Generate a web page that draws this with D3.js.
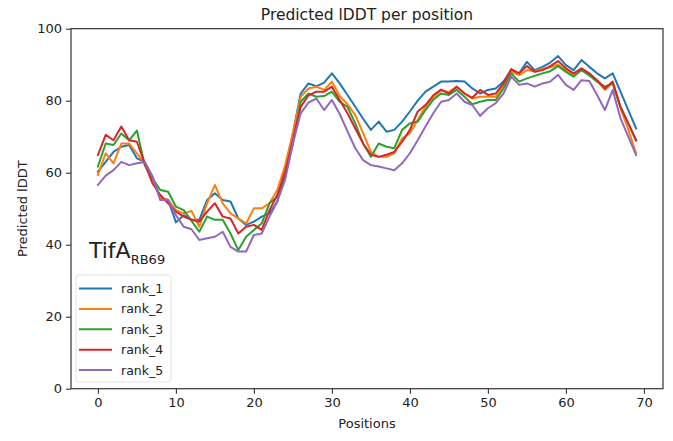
<!DOCTYPE html>
<html>
<head>
<meta charset="utf-8">
<script src="https://cdn.jsdelivr.net/npm/d3@7"></script>
<style>
  html, body { margin: 0; padding: 0; background: #fff; }
  svg { display: block; }
  text { font-family: "DejaVu Sans", sans-serif; fill: #222; }
</style>
</head>
<body>
<svg id="chart" width="673" height="441"></svg>
<script>
// Per-residue predicted lDDT for the five ranked models
const positions = d3.range(0, 70);

const rank_1 = [60.3, 63, 65.8, 67.2, 67.7, 64, 63, 58.9, 52.9, 52.5,
  46.2, 48.2, 47, 46.9, 52.4, 54.3, 52.4, 52, 47.3, 45.5,
  46.4, 47.8, 48.7, 52, 61, 71, 82, 84.8, 84, 85,
  87.6, 84.8, 81.6, 78.3, 75, 71.9, 74.2, 71.4, 71.9, 74.2,
  77, 80, 82.5, 83.9, 85.3, 85.3, 85.5, 85.3, 83.4, 82,
  83, 83.4, 85.3, 88.5, 87.6, 90.8, 88.5, 89.4, 90.6, 92.4,
  89.9, 88.5, 91.3, 89.4, 87.6, 86.2, 87.6, 82.5, 77.4, 72.3];

const rank_2 = [59.4, 65.4, 62.6, 68.1, 68.1, 65.4, 62.6, 58, 52.9, 52.5,
  49.6, 48.7, 49.4, 45, 51.5, 56.6, 51.5, 48.7, 47.3, 45.9,
  50.1, 50.1, 51.5, 55.2, 62, 71, 81.1, 83.4, 83.9, 83,
  85.3, 81.3, 79, 76, 71, 65.8, 64.4, 64.4, 65.4, 69.5,
  71, 74.6, 78.3, 81.1, 82.8, 82.4, 83.9, 82, 80.6, 81.1,
  81.1, 81.1, 84.4, 88, 87.1, 88.5, 88.2, 88.8, 89.3, 90,
  88.5, 87, 88.5, 87.3, 85.5, 83, 85, 78, 72, 65.4];

const rank_3 = [61.7, 68.1, 67.7, 70.9, 69, 71.7, 62.1, 58.4, 55.2, 54.7,
  50.6, 49.6, 46.6, 43.6, 47.8, 46.9, 46.9, 43.1, 38.5, 42.2,
  44.1, 45.9, 51.5, 53.3, 59, 68, 79.7, 82, 81.1, 81.3,
  82.5, 79.7, 78.3, 73.7, 68.1, 64.4, 68.1, 67.2, 66.8, 71.9,
  73.7, 74.2, 77.4, 80.3, 82, 81.6, 83, 81.1, 79, 79.7,
  80.2, 80.2, 83.4, 87.6, 85.3, 86.2, 86.9, 87.6, 88.2, 89.6,
  88, 86.7, 88.5, 87, 85.3, 83.9, 84.8, 78.3, 73.7, 69];

const rank_4 = [64.9, 70.5, 69, 72.8, 69, 68.6, 62.6, 57, 53.8, 51.5,
  49.2, 47.8, 46.9, 46.4, 49.2, 51.5, 47.8, 47.3, 43.1, 45,
  45.5, 44.1, 49.6, 53.8, 60, 69, 78.3, 81.5, 82.5, 82.5,
  83.9, 80.2, 76.5, 72.3, 68.1, 65, 64.4, 65, 65.8, 68.6,
  71.9, 77, 78.8, 81.5, 83.1, 82, 83.9, 82, 80.8, 83,
  81.6, 82, 84.8, 88.8, 87.6, 89.6, 88, 88.5, 89.6, 91,
  89, 87.6, 89, 87.6, 85.7, 83.4, 85.3, 78.3, 73.7, 69];

const rank_5 = [56.6, 59.2, 60.7, 63, 62.1, 62.6, 63, 58.9, 52.4, 52.4,
  48.2, 45, 44.3, 41.3, 41.8, 42.2, 43.6, 39.4, 38.1, 38.1,
  42.7, 43.1, 47.8, 52, 58, 68.1, 76.5, 79.5, 80.6, 77.4,
  80.2, 76.3, 71.5, 66.8, 63.5, 62.1, 61.7, 61.2, 60.7, 62.6,
  65.4, 69, 72.8, 76.5, 79.7, 80.2, 82, 79.7, 78.8, 75.8,
  77.9, 79.3, 82, 86.7, 84.4, 84.8, 83.9, 84.8, 85.3, 87.2,
  84.4, 83, 85.7, 85.5, 81.6, 77.4, 83, 75.1, 70, 64.9];

const seriesNames = ["rank_1", "rank_2", "rank_3", "rank_4", "rank_5"];
const seriesValues = [rank_1, rank_2, rank_3, rank_4, rank_5];
const seriesColors = ["#1f77b4", "#ff7f0e", "#2ca02c", "#d62728", "#9467bd"];

const xTicks = [0, 10, 20, 30, 40, 50, 60, 70];
const yTicks = [0, 20, 40, 60, 80, 100];

const titleText = "Predicted lDDT per position";
const xLabel = "Positions";
const yLabel = "Predicted lDDT";
const proteinName = "TifA";
const proteinSub = "RB69";

// Layout
const plot = { left: 71, right: 663, top: 28.7, bottom: 388.7 };

const svg = d3.select("#chart");

// x extent padded by 5% on each side
const span = d3.max(positions) - d3.min(positions);
const x = d3.scaleLinear()
  .domain([d3.min(positions) - span * 0.05, d3.max(positions) + span * 0.05])
  .range([plot.left, plot.right]);
const y = d3.scaleLinear().domain([0, 100]).range([plot.bottom, plot.top]);

// Axes
const tickFont = "13px";
const xAxis = svg.append("g")
  .attr("transform", `translate(0,${plot.bottom})`)
  .call(d3.axisBottom(x).tickValues(xTicks).tickSize(5).tickPadding(4).tickFormat(d3.format("d")));
const yAxis = svg.append("g")
  .attr("transform", `translate(${plot.left},0)`)
  .call(d3.axisLeft(y).tickValues(yTicks).tickSize(5).tickPadding(4).tickFormat(d3.format("d")));

[xAxis, yAxis].forEach(g => {
  g.select(".domain").remove();
  g.selectAll(".tick line").attr("stroke", "#333").attr("stroke-width", 1.1);
  g.selectAll(".tick text")
    .attr("font-family", "DejaVu Sans, sans-serif")
    .attr("font-size", tickFont)
    .attr("fill", "#222");
});

// Lines
const line = d3.line()
  .x((d, i) => x(positions[i]))
  .y(d => y(d));

seriesValues.forEach((vals, k) => {
  svg.append("path")
    .datum(vals)
    .attr("fill", "none")
    .attr("stroke", seriesColors[k])
    .attr("stroke-width", 2)
    .attr("stroke-linejoin", "round")
    .attr("stroke-linecap", "square")
    .attr("d", line);
});

// Frame
svg.append("rect")
  .attr("x", plot.left).attr("y", plot.top)
  .attr("width", plot.right - plot.left)
  .attr("height", plot.bottom - plot.top)
  .attr("fill", "none")
  .attr("stroke", "#333")
  .attr("stroke-width", 1.2);

// Title and axis labels
svg.append("text")
  .attr("x", (plot.left + plot.right) / 2)
  .attr("y", 20)
  .attr("text-anchor", "middle")
  .attr("font-size", "15.5px")
  .text(titleText);

svg.append("text")
  .attr("x", (plot.left + plot.right) / 2)
  .attr("y", 428)
  .attr("text-anchor", "middle")
  .attr("font-size", "13px")
  .text(xLabel);

svg.append("text")
  .attr("transform", `translate(27,${(plot.top + plot.bottom) / 2}) rotate(-90)`)
  .attr("text-anchor", "middle")
  .attr("font-size", "13px")
  .text(yLabel);

// Legend
const legend = svg.append("g").attr("transform", "translate(76,275)");
legend.append("rect")
  .attr("x", 0).attr("y", 0)
  .attr("width", 95).attr("height", 107)
  .attr("rx", 3)
  .attr("fill", "#fff").attr("fill-opacity", 0.8)
  .attr("stroke", "#e3e3e3").attr("stroke-width", 1);

seriesNames.forEach((name, k) => {
  const row = legend.append("g").attr("transform", `translate(0,${13.5 + k * 20.4})`);
  row.append("line")
    .attr("x1", 3).attr("x2", 36)
    .attr("y1", 0).attr("y2", 0)
    .attr("stroke", seriesColors[k])
    .attr("stroke-width", 2);
  row.append("text")
    .attr("x", 45).attr("y", 4.5)
    .attr("font-size", "12.5px")
    .text(name);
});

// Protein label
const lbl = svg.append("text")
  .attr("x", 89).attr("y", 258)
  .attr("font-family", "Liberation Sans, Arial, sans-serif")
  .attr("font-size", "22px")
  .attr("fill", "#111");
lbl.append("tspan").text(proteinName);
lbl.append("tspan")
  .attr("dy", 6)
  .attr("font-size", "13px")
  .text(proteinSub);
</script>
</body>
</html>
